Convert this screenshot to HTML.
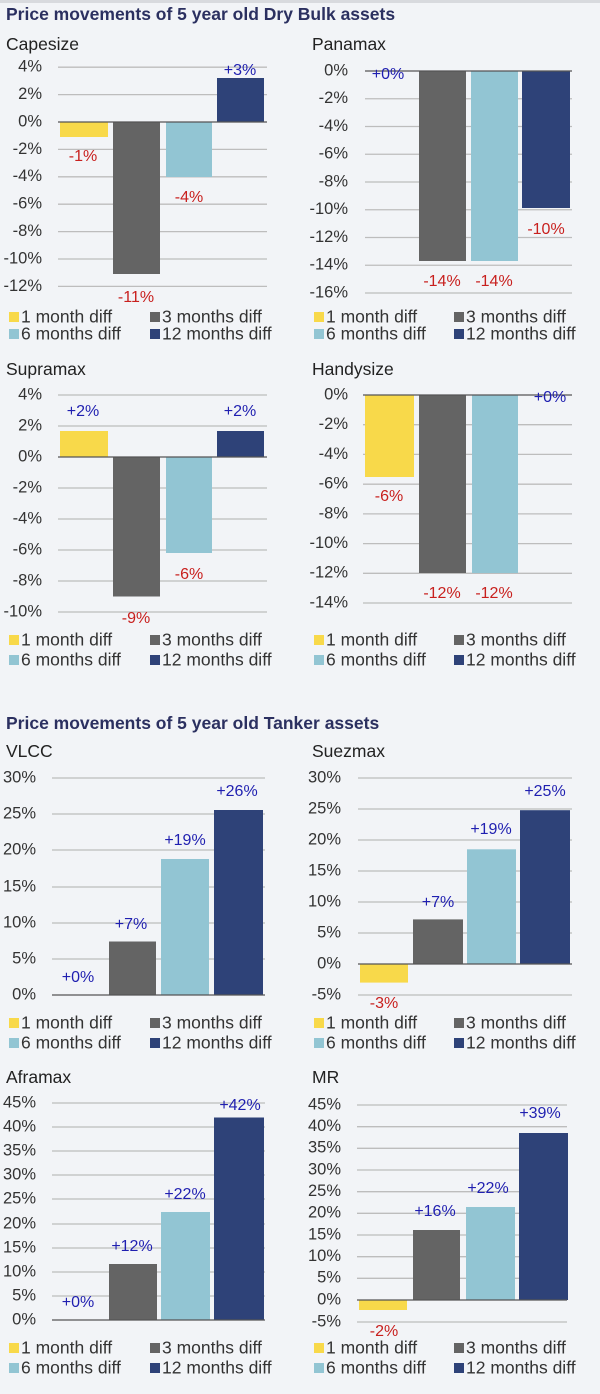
<!DOCTYPE html>
<html><head><meta charset="utf-8"><style>
html,body{margin:0;padding:0;background:#f2f4f7;}
svg{display:block;font-family:"Liberation Sans",sans-serif;}
.t{font-size:17.5px;fill:#2b3060;font-weight:bold;}
.h{font-size:17.5px;fill:#222;}
.a{font-size:16.5px;fill:#333;text-anchor:end;dominant-baseline:middle;}
.g{stroke:#bdbdbd;stroke-width:1.3;}
.z{stroke:#555;stroke-width:1.3;}
.r{font-size:16px;fill:#c8201e;text-anchor:middle;dominant-baseline:middle;}
.b{font-size:16px;fill:#1f1fb0;text-anchor:middle;dominant-baseline:middle;}
.l{font-size:17.5px;fill:#333;dominant-baseline:middle;}
.y{fill:#f8d94a}.k{fill:#646464}.c{fill:#92c5d3}.n{fill:#2e4278}
</style></head><body>
<svg width="600" height="1394" viewBox="0 0 600 1394">
<rect x="0" y="0" width="600" height="3" fill="#d8dade"/>
<text class="t" x="6" y="20">Price movements of 5 year old Dry Bulk assets</text>

<!-- Capesize -->
<text class="h" x="6" y="50">Capesize</text>
<g class="g"><line x1="58" x2="267" y1="67.2" y2="67.2"/><line x1="58" x2="267" y1="94.6" y2="94.6"/><line x1="58" x2="267" y1="149.4" y2="149.4"/><line x1="58" x2="267" y1="176.8" y2="176.8"/><line x1="58" x2="267" y1="204.2" y2="204.2"/><line x1="58" x2="267" y1="231.6" y2="231.6"/><line x1="58" x2="267" y1="259" y2="259"/><line x1="58" x2="267" y1="286.4" y2="286.4"/></g>
<text class="a" x="42" y="67.2">4%</text><text class="a" x="42" y="94.6">2%</text><text class="a" x="42" y="122">0%</text><text class="a" x="42" y="149.4">-2%</text><text class="a" x="42" y="176.8">-4%</text><text class="a" x="42" y="204.2">-6%</text><text class="a" x="42" y="231.6">-8%</text><text class="a" x="42" y="259">-10%</text><text class="a" x="42" y="286.4">-12%</text>
<rect class="y" x="60" y="122" width="48" height="15"/><rect class="k" x="113" y="122" width="47" height="152"/><rect class="c" x="166" y="122" width="46" height="55"/><rect class="n" x="217" y="78" width="47" height="44"/>
<line class="z" x1="58" x2="267" y1="122" y2="122"/>
<text class="r" x="83" y="157">-1%</text><text class="r" x="136" y="298">-11%</text><text class="r" x="189" y="198">-4%</text><text class="b" x="240" y="71">+3%</text>

<!-- Panamax -->
<text class="h" x="312" y="50">Panamax</text>
<g class="g"><line x1="365" x2="572" y1="98.75" y2="98.75"/><line x1="365" x2="572" y1="126.5" y2="126.5"/><line x1="365" x2="572" y1="154.25" y2="154.25"/><line x1="365" x2="572" y1="182" y2="182"/><line x1="365" x2="572" y1="209.75" y2="209.75"/><line x1="365" x2="572" y1="237.5" y2="237.5"/><line x1="365" x2="572" y1="265.25" y2="265.25"/><line x1="365" x2="572" y1="293" y2="293"/></g>
<text class="a" x="348" y="71">0%</text><text class="a" x="348" y="98.75">-2%</text><text class="a" x="348" y="126.5">-4%</text><text class="a" x="348" y="154.25">-6%</text><text class="a" x="348" y="182">-8%</text><text class="a" x="348" y="209.75">-10%</text><text class="a" x="348" y="237.5">-12%</text><text class="a" x="348" y="265.25">-14%</text><text class="a" x="348" y="293">-16%</text>
<rect class="k" x="419" y="71" width="47" height="190"/><rect class="c" x="471" y="71" width="47" height="190"/><rect class="n" x="522" y="71" width="48" height="137"/>
<line class="z" x1="365" x2="572" y1="71" y2="71"/>
<text class="b" x="388" y="75">+0%</text><text class="r" x="442" y="282">-14%</text><text class="r" x="494" y="282">-14%</text><text class="r" x="546" y="230">-10%</text>

<!-- legend row 1 -->
<rect class="y" x="9" y="312" width="10" height="10"/><text class="l" x="21" y="318">1 month diff</text>
<rect class="k" x="150" y="312" width="10" height="10"/><text class="l" x="162" y="318">3 months diff</text>
<rect class="c" x="9" y="329" width="10" height="10"/><text class="l" x="21" y="335">6 months diff</text>
<rect class="n" x="150" y="329" width="10" height="10"/><text class="l" x="162" y="335">12 months diff</text>
<rect class="y" x="314" y="312" width="10" height="10"/><text class="l" x="326" y="318">1 month diff</text>
<rect class="k" x="454" y="312" width="10" height="10"/><text class="l" x="466" y="318">3 months diff</text>
<rect class="c" x="314" y="329" width="10" height="10"/><text class="l" x="326" y="335">6 months diff</text>
<rect class="n" x="454" y="329" width="10" height="10"/><text class="l" x="466" y="335">12 months diff</text>

<!-- Supramax -->
<text class="h" x="6" y="375">Supramax</text>
<g class="g"><line x1="58" x2="267" y1="395" y2="395"/><line x1="58" x2="267" y1="426" y2="426"/><line x1="58" x2="267" y1="488" y2="488"/><line x1="58" x2="267" y1="519" y2="519"/><line x1="58" x2="267" y1="550" y2="550"/><line x1="58" x2="267" y1="581" y2="581"/><line x1="58" x2="267" y1="612" y2="612"/></g>
<text class="a" x="42" y="395">4%</text><text class="a" x="42" y="426">2%</text><text class="a" x="42" y="457">0%</text><text class="a" x="42" y="488">-2%</text><text class="a" x="42" y="519">-4%</text><text class="a" x="42" y="550">-6%</text><text class="a" x="42" y="581">-8%</text><text class="a" x="42" y="612">-10%</text>
<rect class="y" x="60" y="431" width="48" height="26"/><rect class="k" x="113" y="457" width="47" height="139.5"/><rect class="c" x="166" y="457" width="46" height="96"/><rect class="n" x="217" y="431" width="47" height="26"/>
<line class="z" x1="58" x2="267" y1="457" y2="457"/>
<text class="b" x="83" y="412">+2%</text><text class="r" x="136" y="619">-9%</text><text class="r" x="189" y="575">-6%</text><text class="b" x="240" y="412">+2%</text>

<!-- Handysize -->
<text class="h" x="312" y="375">Handysize</text>
<g class="g"><line x1="363" x2="572" y1="424.7" y2="424.7"/><line x1="363" x2="572" y1="454.4" y2="454.4"/><line x1="363" x2="572" y1="484.2" y2="484.2"/><line x1="363" x2="572" y1="513.9" y2="513.9"/><line x1="363" x2="572" y1="543.6" y2="543.6"/><line x1="363" x2="572" y1="573.3" y2="573.3"/><line x1="363" x2="572" y1="603" y2="603"/></g>
<text class="a" x="348" y="395">0%</text><text class="a" x="348" y="424.7">-2%</text><text class="a" x="348" y="454.4">-4%</text><text class="a" x="348" y="484.2">-6%</text><text class="a" x="348" y="513.9">-8%</text><text class="a" x="348" y="543.6">-10%</text><text class="a" x="348" y="573.3">-12%</text><text class="a" x="348" y="603">-14%</text>
<rect class="y" x="365" y="395" width="49" height="82"/><rect class="k" x="419" y="395" width="47" height="178"/><rect class="c" x="472" y="395" width="46" height="178"/>
<line class="z" x1="363" x2="572" y1="395" y2="395"/>
<text class="r" x="389" y="497">-6%</text><text class="r" x="442" y="594">-12%</text><text class="r" x="494" y="594">-12%</text><text class="b" x="550" y="398">+0%</text>

<!-- legend row 2 -->
<rect class="y" x="9" y="635" width="10" height="10"/><text class="l" x="21" y="641">1 month diff</text>
<rect class="k" x="150" y="635" width="10" height="10"/><text class="l" x="162" y="641">3 months diff</text>
<rect class="c" x="9" y="655" width="10" height="10"/><text class="l" x="21" y="661">6 months diff</text>
<rect class="n" x="150" y="655" width="10" height="10"/><text class="l" x="162" y="661">12 months diff</text>
<rect class="y" x="314" y="635" width="10" height="10"/><text class="l" x="326" y="641">1 month diff</text>
<rect class="k" x="454" y="635" width="10" height="10"/><text class="l" x="466" y="641">3 months diff</text>
<rect class="c" x="314" y="655" width="10" height="10"/><text class="l" x="326" y="661">6 months diff</text>
<rect class="n" x="454" y="655" width="10" height="10"/><text class="l" x="466" y="661">12 months diff</text>

<text class="t" x="6" y="729">Price movements of 5 year old Tanker assets</text>

<!-- VLCC -->
<text class="h" x="6" y="757">VLCC</text>
<g class="g"><line x1="52" x2="265" y1="778" y2="778"/><line x1="52" x2="265" y1="814" y2="814"/><line x1="52" x2="265" y1="850" y2="850"/><line x1="52" x2="265" y1="887" y2="887"/><line x1="52" x2="265" y1="923" y2="923"/><line x1="52" x2="265" y1="959" y2="959"/></g>
<text class="a" x="36" y="778">30%</text><text class="a" x="36" y="814">25%</text><text class="a" x="36" y="850">20%</text><text class="a" x="36" y="887">15%</text><text class="a" x="36" y="923">10%</text><text class="a" x="36" y="959">5%</text><text class="a" x="36" y="995">0%</text>
<rect class="k" x="109" y="941.5" width="47" height="53.5"/><rect class="c" x="161" y="859" width="48" height="136"/><rect class="n" x="214" y="810" width="49" height="185"/>
<line class="z" x1="52" x2="265" y1="995" y2="995"/>
<text class="b" x="78" y="978">+0%</text><text class="b" x="131" y="925">+7%</text><text class="b" x="185" y="841">+19%</text><text class="b" x="237" y="792">+26%</text>

<!-- Suezmax -->
<text class="h" x="312" y="757">Suezmax</text>
<g class="g"><line x1="358" x2="572" y1="778" y2="778"/><line x1="358" x2="572" y1="809" y2="809"/><line x1="358" x2="572" y1="840" y2="840"/><line x1="358" x2="572" y1="871" y2="871"/><line x1="358" x2="572" y1="902" y2="902"/><line x1="358" x2="572" y1="933" y2="933"/><line x1="358" x2="572" y1="995" y2="995"/></g>
<text class="a" x="341" y="778">30%</text><text class="a" x="341" y="809">25%</text><text class="a" x="341" y="840">20%</text><text class="a" x="341" y="871">15%</text><text class="a" x="341" y="902">10%</text><text class="a" x="341" y="933">5%</text><text class="a" x="341" y="964">0%</text><text class="a" x="341" y="995">-5%</text>
<rect class="y" x="360" y="964" width="48" height="18.6"/><rect class="k" x="413" y="919.4" width="50" height="44.6"/><rect class="c" x="467" y="849.3" width="49" height="114.7"/><rect class="n" x="520" y="810.2" width="50" height="153.8"/>
<line class="z" x1="358" x2="572" y1="964" y2="964"/>
<text class="r" x="384" y="1004">-3%</text><text class="b" x="438" y="903">+7%</text><text class="b" x="491" y="830">+19%</text><text class="b" x="545" y="792">+25%</text>

<!-- legend row 3 -->
<rect class="y" x="9" y="1018" width="10" height="10"/><text class="l" x="21" y="1024">1 month diff</text>
<rect class="k" x="150" y="1018" width="10" height="10"/><text class="l" x="162" y="1024">3 months diff</text>
<rect class="c" x="9" y="1038" width="10" height="10"/><text class="l" x="21" y="1044">6 months diff</text>
<rect class="n" x="150" y="1038" width="10" height="10"/><text class="l" x="162" y="1044">12 months diff</text>
<rect class="y" x="314" y="1018" width="10" height="10"/><text class="l" x="326" y="1024">1 month diff</text>
<rect class="k" x="454" y="1018" width="10" height="10"/><text class="l" x="466" y="1024">3 months diff</text>
<rect class="c" x="314" y="1038" width="10" height="10"/><text class="l" x="326" y="1044">6 months diff</text>
<rect class="n" x="454" y="1038" width="10" height="10"/><text class="l" x="466" y="1044">12 months diff</text>

<!-- Aframax -->
<text class="h" x="6" y="1083">Aframax</text>
<g class="g"><line x1="52" x2="265" y1="1103" y2="1103"/><line x1="52" x2="265" y1="1127" y2="1127"/><line x1="52" x2="265" y1="1151" y2="1151"/><line x1="52" x2="265" y1="1175" y2="1175"/><line x1="52" x2="265" y1="1199" y2="1199"/><line x1="52" x2="265" y1="1224" y2="1224"/><line x1="52" x2="265" y1="1248" y2="1248"/><line x1="52" x2="265" y1="1272" y2="1272"/><line x1="52" x2="265" y1="1296" y2="1296"/></g>
<text class="a" x="36" y="1103">45%</text><text class="a" x="36" y="1127">40%</text><text class="a" x="36" y="1151">35%</text><text class="a" x="36" y="1175">30%</text><text class="a" x="36" y="1199">25%</text><text class="a" x="36" y="1224">20%</text><text class="a" x="36" y="1248">15%</text><text class="a" x="36" y="1272">10%</text><text class="a" x="36" y="1296">5%</text><text class="a" x="36" y="1320">0%</text>
<rect class="k" x="109" y="1264" width="48" height="56"/><rect class="c" x="161" y="1212" width="49" height="108"/><rect class="n" x="214" y="1117.5" width="50" height="202.5"/>
<line class="z" x1="52" x2="265" y1="1320" y2="1320"/>
<text class="b" x="78" y="1303">+0%</text><text class="b" x="132" y="1247">+12%</text><text class="b" x="185" y="1195">+22%</text><text class="b" x="240" y="1106">+42%</text>

<!-- MR -->
<text class="h" x="312" y="1083">MR</text>
<g class="g"><line x1="357" x2="567" y1="1105" y2="1105"/><line x1="357" x2="567" y1="1126.7" y2="1126.7"/><line x1="357" x2="567" y1="1148.3" y2="1148.3"/><line x1="357" x2="567" y1="1170" y2="1170"/><line x1="357" x2="567" y1="1191.7" y2="1191.7"/><line x1="357" x2="567" y1="1213.3" y2="1213.3"/><line x1="357" x2="567" y1="1235" y2="1235"/><line x1="357" x2="567" y1="1256.7" y2="1256.7"/><line x1="357" x2="567" y1="1278.3" y2="1278.3"/><line x1="357" x2="567" y1="1322" y2="1322"/></g>
<text class="a" x="341" y="1105">45%</text><text class="a" x="341" y="1126.7">40%</text><text class="a" x="341" y="1148.3">35%</text><text class="a" x="341" y="1170">30%</text><text class="a" x="341" y="1191.7">25%</text><text class="a" x="341" y="1213.3">20%</text><text class="a" x="341" y="1235">15%</text><text class="a" x="341" y="1256.7">10%</text><text class="a" x="341" y="1278.3">5%</text><text class="a" x="341" y="1300">0%</text><text class="a" x="341" y="1322">-5%</text>
<rect class="y" x="359" y="1300" width="48" height="10"/><rect class="k" x="413" y="1230" width="47" height="70"/><rect class="c" x="466" y="1207" width="49" height="93"/><rect class="n" x="519" y="1133" width="49" height="167"/>
<line class="z" x1="357" x2="567" y1="1300" y2="1300"/>
<text class="r" x="384" y="1332">-2%</text><text class="b" x="435" y="1212">+16%</text><text class="b" x="488" y="1189">+22%</text><text class="b" x="540" y="1114">+39%</text>

<!-- legend row 4 -->
<rect class="y" x="9" y="1343" width="10" height="10"/><text class="l" x="21" y="1349">1 month diff</text>
<rect class="k" x="150" y="1343" width="10" height="10"/><text class="l" x="162" y="1349">3 months diff</text>
<rect class="c" x="9" y="1363" width="10" height="10"/><text class="l" x="21" y="1369">6 months diff</text>
<rect class="n" x="150" y="1363" width="10" height="10"/><text class="l" x="162" y="1369">12 months diff</text>
<rect class="y" x="314" y="1343" width="10" height="10"/><text class="l" x="326" y="1349">1 month diff</text>
<rect class="k" x="454" y="1343" width="10" height="10"/><text class="l" x="466" y="1349">3 months diff</text>
<rect class="c" x="314" y="1363" width="10" height="10"/><text class="l" x="326" y="1369">6 months diff</text>
<rect class="n" x="454" y="1363" width="10" height="10"/><text class="l" x="466" y="1369">12 months diff</text>
</svg>
</body></html>
